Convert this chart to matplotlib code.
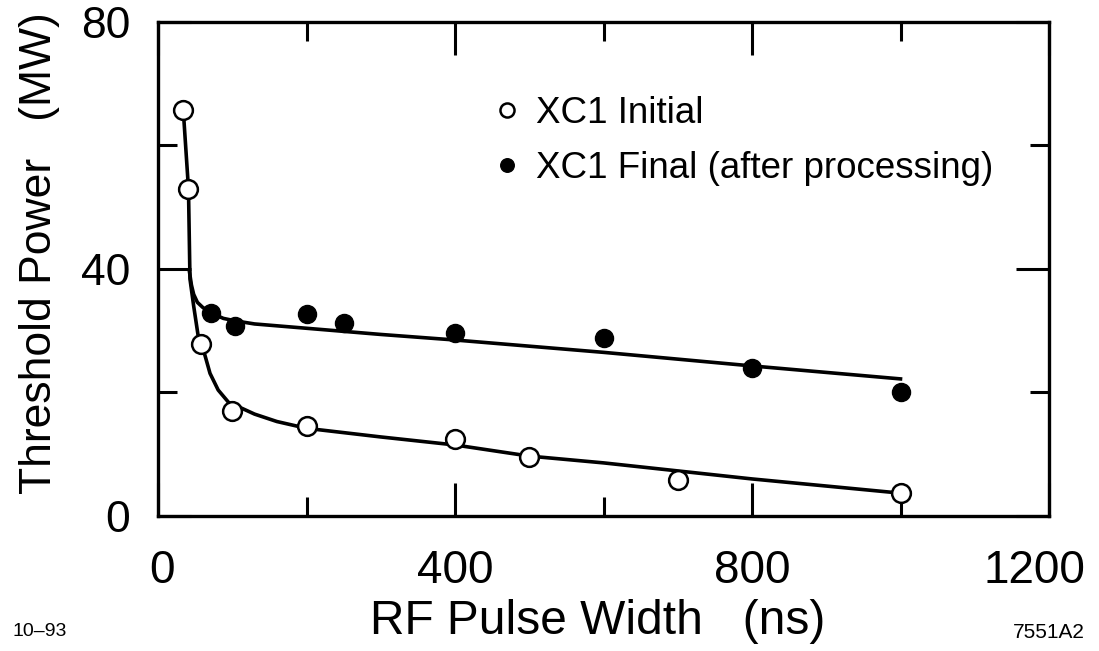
import matplotlib
matplotlib.use("Agg")
import matplotlib.pyplot as plt
import matplotlib.transforms as mtransforms

plt.rcParams["font.family"] = ["Liberation Sans", "DejaVu Sans"]

# ==== Dados ====
initial_x = [34, 41, 57.5, 100, 200, 400, 500, 700, 1000]
initial_y = [65.7, 52.9, 27.8, 17.0, 14.5, 12.5, 9.6, 5.8, 3.7]

final_x = [71, 104, 200, 250, 400, 600, 800, 1000]
final_y = [32.9, 30.8, 32.7, 31.2, 29.7, 28.9, 24.0, 20.1]

# curvas ajustadas (pontos lidos ao longo das linhas)
fit_initial_x = [34, 41, 43, 48, 54, 58, 63, 70, 81, 95, 110, 130, 160, 200, 300, 400, 500, 600, 700, 800, 1000]
fit_initial_y = [65.7, 53.0, 38.4, 34.0, 29.2, 27.3, 26.1, 23.1, 20.4, 18.4, 17.6, 16.5, 15.3, 14.2, 12.8, 11.5, 9.7, 8.6, 7.3, 6.0, 3.7]

fit_final_x = [42, 45, 48, 53, 60, 71, 88, 104, 130, 200, 300, 400, 600, 800, 1000]
fit_final_y = [39.8, 37.4, 35.9, 34.6, 33.8, 32.9, 32.0, 31.6, 31.1, 30.4, 29.4, 28.5, 26.5, 24.3, 22.2]

x_major = [0, 400, 800, 1200]
x_minor = [200, 600, 1000]
y_major = [0, 40, 80]
y_minor = [20, 60]

# ==== Gráfico ====
fig = plt.figure(figsize=(10.99, 6.51), dpi=100)
ax = fig.add_axes([0.1438, 0.2074, 0.8107, 0.7588])

ax.plot(fit_initial_x, fit_initial_y, color="black", linewidth=2.6, zorder=2)
ax.plot(fit_final_x, fit_final_y, color="black", linewidth=2.6, zorder=2)

h_init, = ax.plot(initial_x, initial_y, linestyle="none", marker="o", markersize=13.5,
                  markerfacecolor="white", markeredgecolor="black", markeredgewidth=1.8, zorder=3)
h_final, = ax.plot(final_x, final_y, linestyle="none", marker="o", markersize=13,
                   markerfacecolor="black", markeredgecolor="black", zorder=3)

ax.set_xlim(0, 1200)
ax.set_ylim(0, 80)
ax.set_xticks(x_major)
ax.set_xticks(x_minor, minor=True)
ax.set_yticks(y_major)
ax.set_yticks(y_minor, minor=True)

ax.tick_params(which="both", direction="in", top=True, right=True, width=2.2, labelsize=33)
ax.tick_params(axis="x", pad=24)
ax.tick_params(axis="y", pad=20, labelsize=32)
ax.tick_params(which="major", length=24)
ax.tick_params(which="minor", length=14)
for s in ax.spines.values():
    s.set_linewidth(2.4)

# rótulos do eixo x um pouco deslocados como no original
shifts = {0: 4, 1200: -15}
for lbl, val in zip(ax.get_xticklabels(), x_major):
    dx = shifts.get(val, 0)
    if dx:
        lbl.set_transform(lbl.get_transform() + mtransforms.ScaledTranslation(dx / 100, 0, fig.dpi_scale_trans))

ax.legend([h_init, h_final], ["XC1 Initial", "XC1 Final (after processing)"],
          loc="upper left", bbox_to_anchor=(0.379, 0.85), frameon=False, fontsize=26.5,
          handlelength=0.6, handletextpad=0.5, labelspacing=0.54, markerscale=0.75,
          borderpad=0, borderaxespad=0)

fig.text(40 / 1099, 1 - 253 / 651, "Threshold Power   (MW)", rotation=90,
         ha="center", va="center", fontsize=32)
fig.text(598 / 1099, 1 - 621 / 651, "RF Pulse Width   (ns)", ha="center", va="center", fontsize=34.5)
fig.text(12 / 1099, 1 - 632 / 651, "10–93", ha="left", va="center", fontsize=14)
fig.text(1085 / 1099, 1 - 632 / 651, "7551A2", ha="right", va="center", fontsize=15)

fig.savefig("out.png", dpi=100)
